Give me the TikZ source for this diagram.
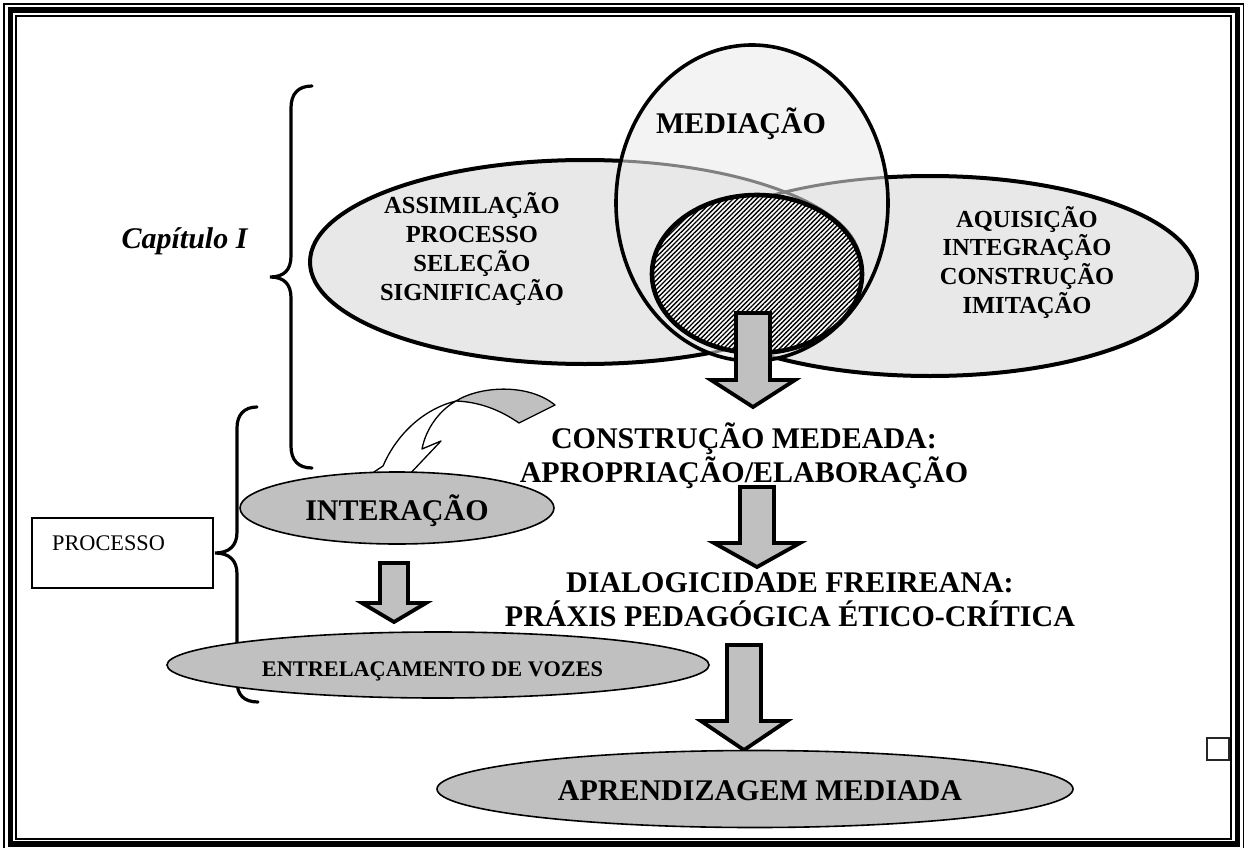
\documentclass[tikz,border=0pt]{standalone}
\usepackage{fontspec}
\setmainfont{Liberation Serif}
\usetikzlibrary{patterns.meta,shapes.geometric}
\definecolor{ellfill}{HTML}{E8E8E8}
\definecolor{circfill}{HTML}{F3F3F3}
\definecolor{darkfill}{HTML}{C0C0C0}
\tikzset{
  bigtxt/.style={font=\bfseries\fontsize{30}{34}\selectfont, anchor=base, inner sep=0pt},
  midtxt/.style={font=\bfseries\fontsize{24.5}{29}\selectfont, anchor=base, inner sep=0pt},
  smalltxt/.style={font=\bfseries\fontsize{22.3}{26}\selectfont, anchor=base, inner sep=0pt},
  bracestyle/.style={line width=3.2pt, line cap=round},
  barrow/.style={draw=black, fill=darkfill, line width=3.8pt, line join=miter},
  grayell/.style={ellipse, draw=black, fill=darkfill, line width=1.6pt, inner sep=0pt},
}
\begin{document}
\begin{tikzpicture}[x=1pt,y=-1pt]
\useasboundingbox (0,0) rectangle (1247,848);
\fill[white] (0,0) rectangle (1247,848);
% frame
\draw[line width=1.5pt] (4,4) rectangle (1243.5,849);
\draw[line width=5.5pt] (10.5,10.2) rectangle (1237.5,844);
\draw[line width=2pt] (16,16.2) rectangle (1231,838.7);

% left and right ellipses
\fill[ellfill] (585,262) ellipse [x radius=275pt, y radius=102pt];
\draw[line width=4pt] (585,262) ellipse [x radius=275pt, y radius=102pt];
\fill[ellfill] (930,276) ellipse [x radius=267pt, y radius=100pt];
\draw[line width=4pt] (930,276) ellipse [x radius=267pt, y radius=100pt];

% mediation circle
\fill[circfill] (752,203) ellipse [x radius=136pt, y radius=158pt];
\begin{scope}
  \clip (752,203) ellipse [x radius=136pt, y radius=158pt];
  \fill[ellfill] (585,262) ellipse [x radius=275pt, y radius=102pt];
  \fill[ellfill] (930,276) ellipse [x radius=267pt, y radius=100pt];
  \draw[black!50, line width=3pt] (585,262) ellipse [x radius=275pt, y radius=102pt];
  \draw[black!50, line width=3pt] (930,276) ellipse [x radius=267pt, y radius=100pt];
\end{scope}
\draw[line width=3.6pt] (752,203) ellipse [x radius=136pt, y radius=158pt];

% hatched core
\draw[line width=4.6pt, fill=white,
  postaction={pattern={Lines[angle=45,distance=3.3pt,line width=1.4pt]}}]
  (757,274) ellipse [x radius=105pt, y radius=79pt];

% texts of the top diagram
\node[bigtxt] (med) at (741,133) {MEDIAÇÃO};
\node[midtxt] (l1) at (472,213) {ASSIMILAÇÃO};
\node[midtxt] (l2) at (472,242) {PROCESSO};
\node[midtxt] (l3) at (472,271) {SELEÇÃO};
\node[midtxt] (l4) at (472,300) {SIGNIFICAÇÃO};
\node[midtxt] (r1) at (1027,227) {AQUISIÇÃO};
\node[midtxt] (r2) at (1027,255) {INTEGRAÇÃO};
\node[midtxt] (r3) at (1027,284) {CONSTRUÇÃO};
\node[midtxt] (r4) at (1027,313) {IMITAÇÃO};

% arrow 1
\draw[barrow] (736,313) -- (770,313) -- (770,380) -- (795,380) -- (753,407) -- (711,380) -- (736,380) -- cycle;

% chapter brace
\node[font=\bfseries\itshape\fontsize{30}{34}\selectfont, anchor=base, inner sep=0pt] (cap) at (184.5,248) {Capítulo I};
\draw[bracestyle] (312,86) .. controls (298,86) and (291,94) .. (291,108) -- (291,256)
  .. controls (291,270) and (284,277) .. (270,277) .. controls (284,277) and (291,284) .. (291,298)
  -- (291,446) .. controls (291,460) and (298,468) .. (312,468);

% process brace
\draw[bracestyle] (257,407) .. controls (244,407) and (237,415) .. (237,428) -- (237,532)
  .. controls (237,546) and (229,553) .. (215,553) .. controls (229,553) and (237,560) .. (237,574)
  -- (237,681) .. controls (237,695) and (244,702) .. (258,702);
\node[draw, line width=1.2pt, minimum width=181pt, minimum height=70pt, inner sep=0pt] (proc) at (122.5,553) {};
\node[font=\fontsize{22.3}{26}\selectfont, anchor=base west, inner sep=0pt] (proct) at (52,550) {PROCESSO};

% curved arrow
\coordinate (J) at (456,401);
\draw[line width=1.3pt, fill=white, line join=round] (365,478) -- (383,466)
  .. controls (395,438) and (420,410) .. (J)
  .. controls (440,410) and (426,428) .. (422,449) -- (441,441) -- (406,478) -- cycle;
\draw[line width=1.3pt, fill=darkfill, line join=round] (J)
  .. controls (480,386) and (528,383) .. (555,405) -- (519,423)
  .. controls (500,410) and (480,402) .. (J) -- cycle;

% lower ellipses
\node[grayell, minimum width=314pt, minimum height=72pt] (inter) at (397,508) {};
\node[bigtxt] (intert) at (397,520) {INTERAÇÃO};
\draw[barrow] (380,563) -- (408,563) -- (408,603) -- (426,603) -- (394,622) -- (362,603) -- (380,603) -- cycle;
\node[grayell, minimum width=542pt, minimum height=66pt] (entre) at (438,665) {};
\node[smalltxt] (entret) at (432.5,676) {ENTRELAÇAMENTO DE VOZES};

% central column
\node[bigtxt] (c1) at (744,448) {CONSTRUÇÃO MEDEADA:};
\node[bigtxt] (c2) at (744,482) {APROPRIAÇÃO/ELABORAÇÃO};
\draw[barrow] (740,487) -- (774,487) -- (774,543) -- (800,543) -- (757,567) -- (714,543) -- (740,543) -- cycle;
\node[bigtxt] (d1) at (790,592) {DIALOGICIDADE FREIREANA:};
\node[bigtxt] (d2) at (790,626) {PRÁXIS PEDAGÓGICA ÉTICO-CRÍTICA};
\draw[barrow] (727,645) -- (761,645) -- (761,721) -- (787,721) -- (744,750) -- (701,721) -- (727,721) -- cycle;
\node[grayell, minimum width=636pt, minimum height=77pt] (apr) at (755,789) {};
\node[bigtxt] (aprt) at (760,800) {APRENDIZAGEM MEDIADA};

% small square
\node[draw=black!85, line width=2pt, minimum width=22pt, minimum height=22pt, inner sep=0pt] (sq) at (1217.5,748.5) {};
\end{tikzpicture}
\end{document}
